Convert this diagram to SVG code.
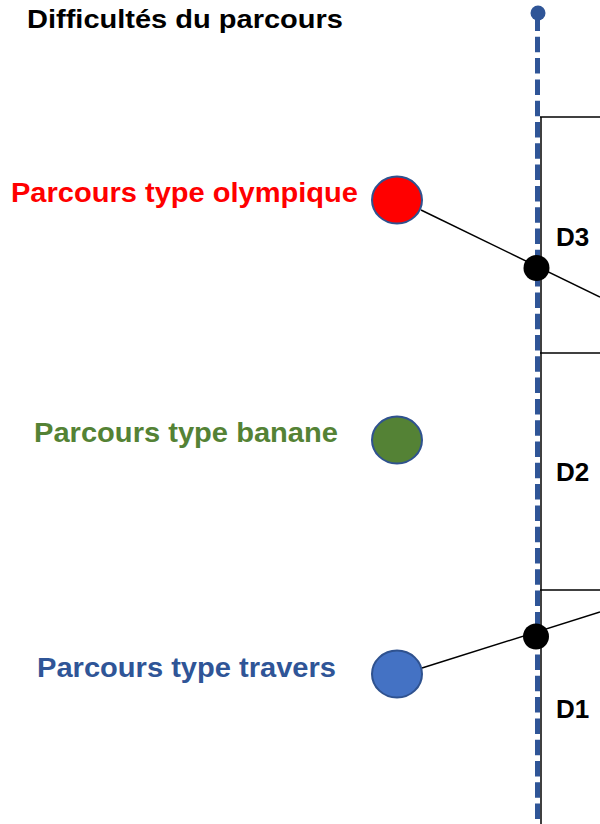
<svg xmlns="http://www.w3.org/2000/svg" width="600" height="824" viewBox="0 0 600 824">
<style>
text{font-family:"Liberation Sans",Arial,sans-serif;font-weight:bold;}
.lbl{font-size:27.5px;}
.d{font-size:26px;fill:#000;}
.thin{stroke:#000;stroke-width:1.5;fill:none;}
.ell{stroke:#2F528F;stroke-width:2;}
</style>
<rect width="600" height="824" fill="#fff"/>
<text x="27" y="28" font-size="25.5" fill="#000" textLength="316" lengthAdjust="spacingAndGlyphs">Difficultés du parcours</text>
<g id="axis">
<line x1="537.5" y1="15.5" x2="537.5" y2="824" stroke="#2F5597" stroke-width="5" stroke-dasharray="15.5 5.8"/>
<circle cx="538" cy="13" r="7.5" fill="#2F5597"/>
</g>
<g id="scale">
<line class="thin" x1="541" y1="117" x2="541" y2="824"/>
<line class="thin" x1="540" y1="117" x2="600" y2="117"/>
<line class="thin" x1="540" y1="353" x2="600" y2="353"/>
<line class="thin" x1="540" y1="590" x2="600" y2="590"/>
<text class="d" x="556" y="246">D3</text>
<text class="d" x="556" y="481">D2</text>
<text class="d" x="556" y="718">D1</text>
</g>
<g id="connectors">
<line class="thin" x1="421" y1="210" x2="600" y2="297"/>
<line class="thin" x1="422" y1="668" x2="600" y2="612"/>
<circle cx="536.5" cy="268" r="13" fill="#000"/>
<circle cx="536" cy="636.5" r="13" fill="#000"/>
</g>
<g id="olympique">
<ellipse class="ell" cx="397" cy="200" rx="25" ry="23.5" fill="#FF0000"/>
<text class="lbl" x="11" y="202" fill="#FF0000" textLength="347" lengthAdjust="spacingAndGlyphs">Parcours type olympique</text>
</g>
<g id="banane">
<ellipse class="ell" cx="397" cy="440" rx="25" ry="23.5" fill="#548235"/>
<text class="lbl" x="34" y="442" fill="#548235" textLength="304" lengthAdjust="spacingAndGlyphs">Parcours type banane</text>
</g>
<g id="travers">
<ellipse class="ell" cx="397" cy="674" rx="25" ry="23.5" fill="#4472C4"/>
<text class="lbl" x="37" y="677" fill="#2F5597" textLength="299" lengthAdjust="spacingAndGlyphs">Parcours type travers</text>
</g>
</svg>
